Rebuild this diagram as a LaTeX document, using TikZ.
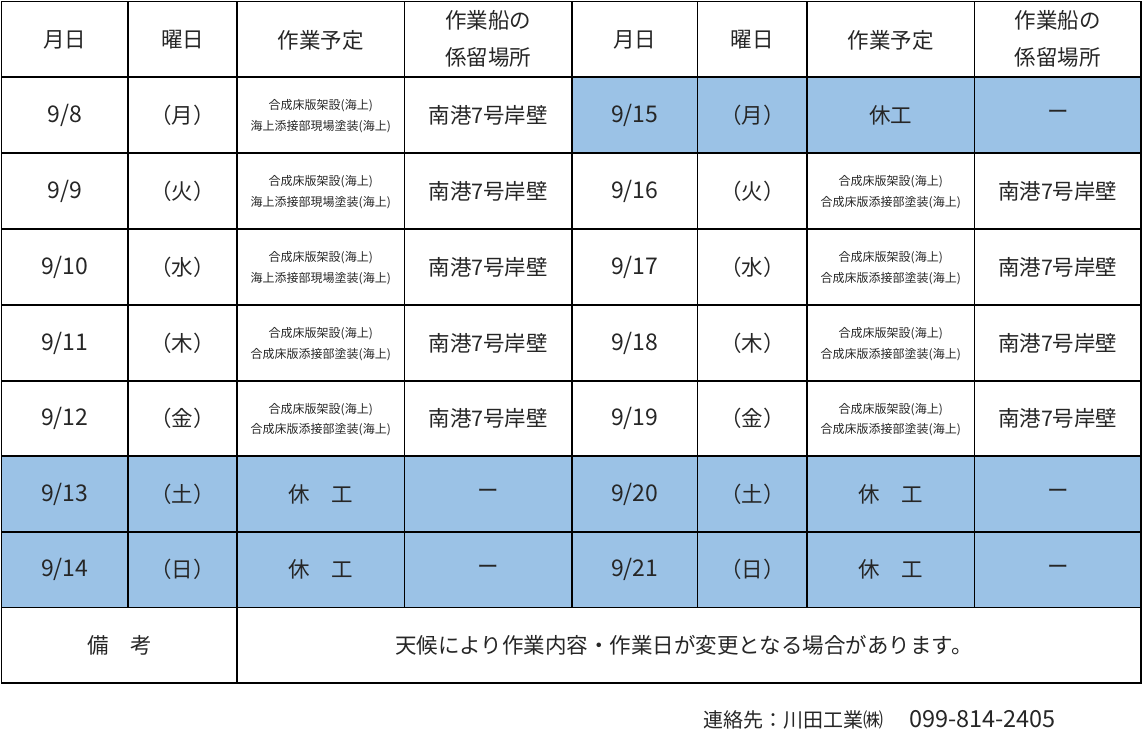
\documentclass[tikz,border=0pt]{standalone}
\usepackage{fontspec}
\setmainfont{Noto Sans CJK JP}
\definecolor{cellblue}{HTML}{9BC2E6}
\newcommand{\dg}[1]{{\fontsize{23}{36}\selectfont #1}}
\begin{document}
\begin{tikzpicture}[x=1pt,y=-1pt,
  big/.style={font=\fontsize{21.5}{37}\selectfont, inner sep=0pt, align=center, text=black!85},
  small/.style={font=\fontsize{12}{20.5}\selectfont, inner sep=0pt, align=center, text=black!85},
  gridline/.style={line width=1.7pt, line cap=rect}]
\useasboundingbox (0,0) rectangle (1143,732);
% blue fills
\fill[cellblue] (1.5,456) rectangle (572,607.5);
\fill[cellblue] (572,456) rectangle (1141,607.5);
\fill[cellblue] (572,77) rectangle (1141,153);
% horizontal lines
\foreach \y in {1.5,77,153,229,305,381,456,532,607.5,683}
  \draw[gridline] (1.5,\y) -- (1141,\y);
% vertical lines
\foreach \x in {1.5,237,1141}
  \draw[gridline] (\x,1.5) -- (\x,683);
\foreach \x in {128,404.5,572,697.5,807,974.5}
  \draw[gridline] (\x,1.5) -- (\x,607.5);
% header
\node[big] (h1) at (64.75,40) {月日};
\node[big] (h2) at (182.5,40) {曜日};
\node[big] (h3) at (320.75,40) {作業予定};
\node[big] (h4) at (488.25,39.25) {作業船の\\係留場所};
\node[big] (h5) at (634.75,40) {月日};
\node[big] (h6) at (752.25,40) {曜日};
\node[big] (h7) at (890.75,40) {作業予定};
\node[big] (h8) at (1057.75,39.25) {作業船の\\係留場所};
% left rows
\node[big] (a1) at (64.75,115) {\dg{9/8}};
\node[big] (b1) at (182.5,115) {（月）};
\node[small] (c1) at (320.75,116) {合成床版架設(海上)\\海上添接部現場塗装(海上)};
\node[big] (d1) at (488.25,115) {南港7号岸壁};
\node[big] (a2) at (64.75,191) {\dg{9/9}};
\node[big] (b2) at (182.5,191) {（火）};
\node[small] (c2) at (320.75,192) {合成床版架設(海上)\\海上添接部現場塗装(海上)};
\node[big] (d2) at (488.25,191) {南港7号岸壁};
\node[big] (a3) at (64.75,267) {\dg{9/10}};
\node[big] (b3) at (182.5,267) {（水）};
\node[small] (c3) at (320.75,268) {合成床版架設(海上)\\海上添接部現場塗装(海上)};
\node[big] (d3) at (488.25,267) {南港7号岸壁};
\node[big] (a4) at (64.75,343) {\dg{9/11}};
\node[big] (b4) at (182.5,343) {（木）};
\node[small] (c4) at (320.75,344) {合成床版架設(海上)\\合成床版添接部塗装(海上)};
\node[big] (d4) at (488.25,343) {南港7号岸壁};
\node[big] (a5) at (64.75,418.5) {\dg{9/12}};
\node[big] (b5) at (182.5,418.5) {（金）};
\node[small] (c5) at (320.75,419.5) {合成床版架設(海上)\\合成床版添接部塗装(海上)};
\node[big] (d5) at (488.25,418.5) {南港7号岸壁};
\node[big] (a6) at (64.75,494) {\dg{9/13}};
\node[big] (b6) at (182.5,494) {（土）};
\node[big] (c6) at (320.75,494) {休　工};
\node[big] (d6) at (488.25,494) {ー};
\node[big] (a7) at (64.75,569.75) {\dg{9/14}};
\node[big] (b7) at (182.5,569.75) {（日）};
\node[big] (c7) at (320.75,569.75) {休　工};
\node[big] (d7) at (488.25,569.75) {ー};
% right rows
\node[big] (e1) at (634.75,115) {\dg{9/15}};
\node[big] (f1) at (752.25,115) {（月）};
\node[big] (g1) at (890.75,115) {休工};
\node[big] (k1) at (1057.75,115) {ー};
\node[big] (e2) at (634.75,191) {\dg{9/16}};
\node[big] (f2) at (752.25,191) {（火）};
\node[small] (g2) at (890.75,192) {合成床版架設(海上)\\合成床版添接部塗装(海上)};
\node[big] (k2) at (1057.75,191) {南港7号岸壁};
\node[big] (e3) at (634.75,267) {\dg{9/17}};
\node[big] (f3) at (752.25,267) {（水）};
\node[small] (g3) at (890.75,268) {合成床版架設(海上)\\合成床版添接部塗装(海上)};
\node[big] (k3) at (1057.75,267) {南港7号岸壁};
\node[big] (e4) at (634.75,343) {\dg{9/18}};
\node[big] (f4) at (752.25,343) {（木）};
\node[small] (g4) at (890.75,344) {合成床版架設(海上)\\合成床版添接部塗装(海上)};
\node[big] (k4) at (1057.75,343) {南港7号岸壁};
\node[big] (e5) at (634.75,418.5) {\dg{9/19}};
\node[big] (f5) at (752.25,418.5) {（金）};
\node[small] (g5) at (890.75,419.5) {合成床版架設(海上)\\合成床版添接部塗装(海上)};
\node[big] (k5) at (1057.75,418.5) {南港7号岸壁};
\node[big] (e6) at (634.75,494) {\dg{9/20}};
\node[big] (f6) at (752.25,494) {（土）};
\node[big] (g6) at (890.75,494) {休　工};
\node[big] (k6) at (1057.75,494) {ー};
\node[big] (e7) at (634.75,569.75) {\dg{9/21}};
\node[big] (f7) at (752.25,569.75) {（日）};
\node[big] (g7) at (890.75,569.75) {休　工};
\node[big] (k7) at (1057.75,569.75) {ー};
% remarks
\node[big] (rem) at (119.25,645.25) {備　考};
\node[big] (remtext) at (684,645.25) {天候により作業内容・作業日が変更となる場合があります。};
% contact
\node[big, anchor=west] (contact) at (703,720) {{\fontsize{20}{24}\selectfont 連絡先：川田工業㈱}\hspace{26pt}{\fontsize{23.5}{24}\selectfont 099-814-2405}};
\end{tikzpicture}
\end{document}
